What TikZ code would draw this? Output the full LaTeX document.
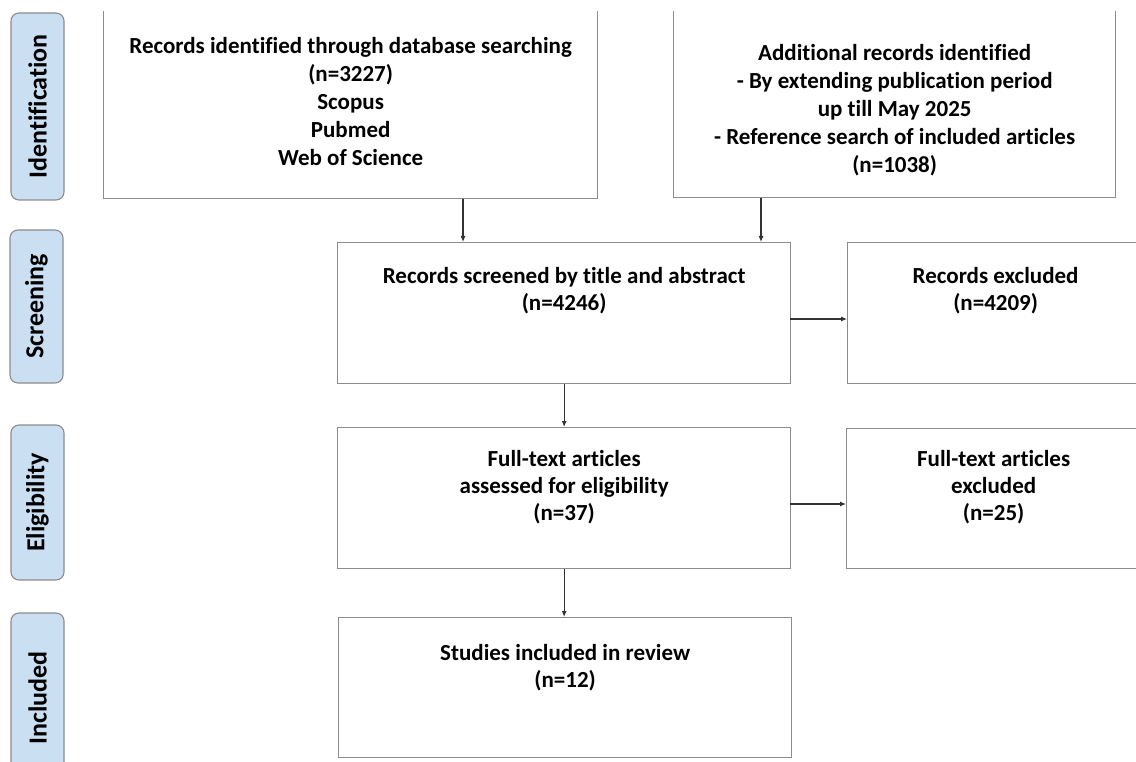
\documentclass[tikz,border=0pt]{standalone}
\usepackage{fontspec}
\setmainfont{Carlito}[Ligatures=NoCommon]
\usetikzlibrary{positioning}
\usepgflibrary{arrows.meta}
\definecolor{phaseblue}{RGB}{202,223,242}
\definecolor{boxgrey}{RGB}{140,140,140}
\definecolor{arrowgrey}{RGB}{50,50,50}
\tikzset{
  flowbox/.style={draw=boxgrey, line width=1.3pt, rectangle, inner sep=0pt, anchor=north west},
  flowtext/.style={align=center, inner sep=0pt, font=\bfseries\fontsize{23}{27}\selectfont},
  phase/.style={draw=boxgrey, fill=phaseblue, rounded corners=8pt, line width=1.1pt, inner sep=0pt,
    rotate=90, font=\bfseries\fontsize{26}{30}\selectfont},
  flowarrow/.style={draw=arrowgrey, line width=1.1pt, -{Latex[length=6pt,width=5pt]}},
}

\begin{document}
\begin{tikzpicture}[x=1pt,y=-1pt]
        \useasboundingbox (0,0) rectangle (1136,762);
        %阶段
        \node[phase, minimum width=187, minimum height=53] (ident) at (37.5,106.5) {Identification};
        \node[phase, minimum width=153, minimum height=53] (scrn) at (36.5,306.5) {Screening};
        \node[phase, minimum width=155, minimum height=53] (elgb) at (37.5,502.5) {Eligibility};
        \node[phase, minimum width=170, minimum height=53] (incb) at (37.5,698) {Included};
        %识别
        \begin{scope}
        \clip (80,12) rectangle (1136,762);
        \node[flowbox, minimum width=494, minimum height=192] (dbsearch) at (103,6) {};
        \node[flowbox, minimum width=442, minimum height=191] (addrec) at (673,6) {};
        \end{scope}
        \node[flowtext, below=31pt of dbsearch.north, font=\bfseries\fontsize{23}{28}\selectfont] (dbsearch-txt)
          {Records identified through database searching\\(n=3227)\\Scopus\\Pubmed\\Web of Science};
        \node[flowtext, below=38pt of addrec.north, font=\bfseries\fontsize{23}{28}\selectfont] (addrec-txt)
          {Additional records identified\\- By extending publication period\\up till May 2025\\- Reference search of included articles\\(n=1038)};
        %筛选
        \node[flowbox, minimum width=453, minimum height=141] (screen) at (337,242) {};
        \node[flowtext, below=25pt of screen.north] (screen-txt) {Records screened by title and abstract\\(n=4246)};
        \node[flowbox, minimum width=320, minimum height=141] (screenex) at (847,242) {};
        \node[flowtext, below=25pt of screenex.north, xshift=-12pt] (screenex-txt) {Records excluded\\(n=4209)};
        %合格
        \node[flowbox, minimum width=453, minimum height=141] (elig) at (337,427) {};
        \node[flowtext, below=23pt of elig.north] (elig-txt) {Full-text articles\\assessed for eligibility\\(n=37)};
        \node[flowbox, minimum width=320, minimum height=140] (eligex) at (846,428) {};
        \node[flowtext, below=22pt of eligex.north, xshift=-13pt] (eligex-txt) {Full-text articles\\excluded\\(n=25)};
        %纳入
        \node[flowbox, minimum width=453, minimum height=140] (incl) at (338,617) {};
        \node[flowtext, below=27pt of incl.north] (incl-txt) {Studies included in review\\(n=12)};
        %箭头
        \coordinate (dbin) at (463,242);
        \coordinate (addin) at (761,242);
        \coordinate (scrout) at (790,319);
        \coordinate (elgout) at (790,504);
        \draw[flowarrow] (dbsearch.south -| dbin) -- (dbin);
        \draw[flowarrow] (addrec.south -| addin) -- (addin);
        \draw[flowarrow] (scrout) -- (scrout -| screenex.west);
        \draw[flowarrow] (screen.south) -- (elig.north);
        \draw[flowarrow] (elgout) -- (elgout -| eligex.west);
        \draw[flowarrow] (elig.south) -- (elig.south |- incl.north);
\end{tikzpicture}
\end{document}
